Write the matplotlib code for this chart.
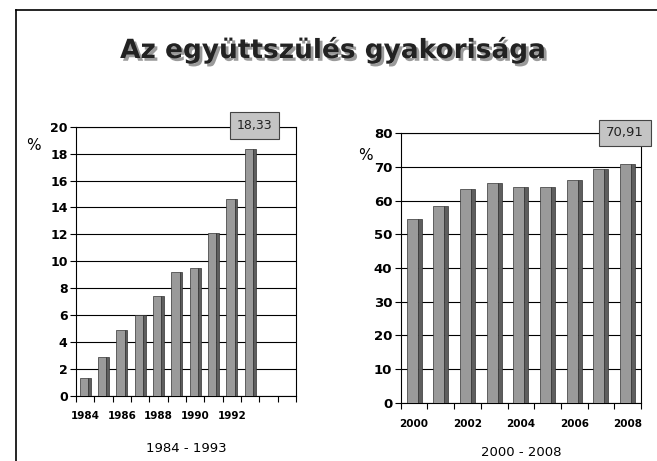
import matplotlib
matplotlib.use("Agg")
import matplotlib.pyplot as plt
from matplotlib.lines import Line2D
import matplotlib.patheffects as pe

# ---- data ----
years_a = [1984, 1985, 1986, 1987, 1988, 1989, 1990, 1991, 1992, 1993]
values_a = [1.3, 2.9, 4.9, 6.0, 7.4, 9.2, 9.5, 12.1, 14.6, 18.33]
years_b = [2000, 2001, 2002, 2003, 2004, 2005, 2006, 2007, 2008]
values_b = [54.5, 58.5, 63.5, 65.3, 64.0, 64.2, 66.0, 69.5, 70.91]
title = "Az együttszülés gyakorisága"
xlabel_a = "1984 - 1993"
xlabel_b = "2000 - 2008"
label_a = "18,33"
label_b = "70,91"

W, H = 657, 461
fig = plt.figure(figsize=(W / 100, H / 100), dpi=100)
fig.patch.set_facecolor("white")

def fx(px):
    return px / W

def fy(py):
    return 1 - py / H

# slide border
fig.add_artist(Line2D([fx(16), fx(16)], [fy(10), 0], color="black", lw=1.2))
fig.add_artist(Line2D([fx(16), 1], [fy(10), fy(10)], color="black", lw=1.2))

# title with shadow
fig.text(fx(333), fy(50), title, ha="center", va="center",
         fontsize=19, fontweight="bold", color="#222222",
         path_effects=[pe.withSimplePatchShadow(offset=(2, -2),
                                                shadow_rgbFace="#9a9a9a",
                                                alpha=1.0)])

FRONT = "#9a9a9a"
SIDE = "#5e5e5e"

def draw(ax, years, values, nslots, ymax, ystep, fw, sw, lab_fs):
    n = len(years)
    xs = list(range(n))
    ax.set_axisbelow(True)
    ax.yaxis.grid(True, color="black", lw=0.8)
    ax.bar([x - sw / 2 for x in xs], values, width=fw, color=FRONT,
           edgecolor="#333333", lw=0.5, zorder=3)
    ax.bar([x + fw / 2 for x in xs], values, width=sw, color=SIDE,
           edgecolor="#333333", lw=0.5, zorder=3)
    ax.set_xlim(-0.5, nslots - 0.5)
    ax.set_ylim(0, ymax)
    ax.set_yticks(range(0, ymax + 1, ystep))
    ax.tick_params(axis="y", labelsize=lab_fs, width=0.8, length=4, pad=2)
    for t in ax.get_yticklabels():
        t.set_fontweight("bold")
    ax.set_xticks([x - 0.5 for x in range(nslots + 1)], minor=True)
    ax.set_xticks(xs[::2])
    ax.set_xticklabels([str(y) for y in years[::2]], fontsize=7.5,
                       fontweight="bold")
    ax.tick_params(axis="x", which="minor", length=4, width=0.8)
    for s in ax.spines.values():
        s.set_linewidth(0.8)

ax1 = fig.add_axes([fx(76), fy(396), fx(296) - fx(76), fy(126.7) - fy(396)])
draw(ax1, years_a, values_a, 12, 20, 2, 0.45, 0.15, 9)
ax1.tick_params(axis="x", which="major", length=0, pad=11)
ax1.set_xlabel(xlabel_a, fontsize=9.5, labelpad=15)
fig.text(fx(33), fy(146), "%", ha="center", va="center", fontsize=11)
ax1.text(9.25, 20.1, label_a, ha="center", va="center", fontsize=9,
         color="#222222", clip_on=False, zorder=5,
         bbox=dict(boxstyle="square,pad=0.55", fc="#c4c4c4", ec="#444444", lw=0.8))

ax2 = fig.add_axes([fx(400.7), fy(402.7), fx(641) - fx(400.7), fy(133.3) - fy(402.7)])
draw(ax2, years_b, values_b, 9, 80, 10, 0.41, 0.15, 9.5)
ax2.tick_params(axis="x", which="major", length=0, pad=12)
ax2.set_xlabel(xlabel_b, fontsize=9.5, labelpad=12)
fig.text(fx(365), fy(155), "%", ha="center", va="center", fontsize=11)
ax2.text(7.9, 80.1, label_b, ha="center", va="center", fontsize=9.5,
         color="#222222", clip_on=False, zorder=5,
         bbox=dict(boxstyle="square,pad=0.5", fc="#c4c4c4", ec="#444444", lw=0.8))

fig.savefig("out.png", dpi=100)
